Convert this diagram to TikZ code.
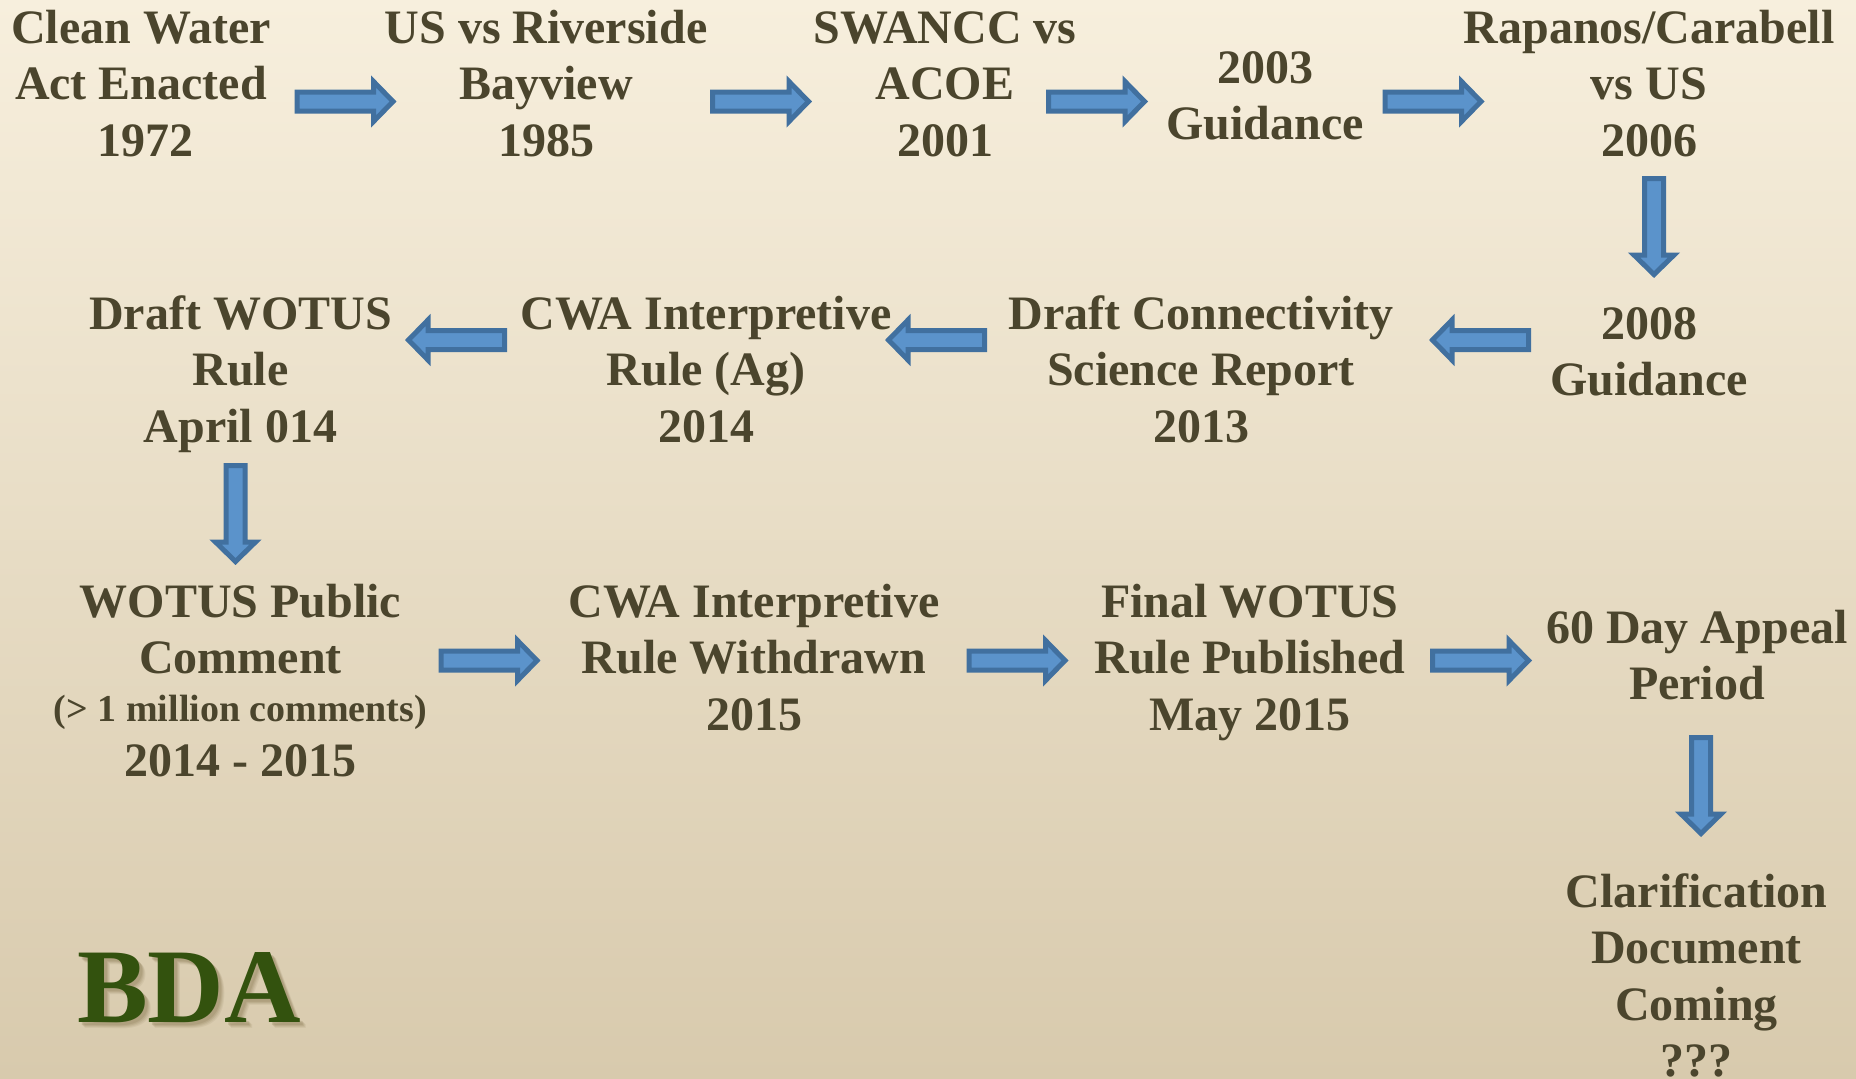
\documentclass[tikz,border=0pt]{standalone}
\usepackage{fontspec}
\setmainfont{Liberation Serif}
\definecolor{bgtop}{HTML}{F7EFDD}
\definecolor{bgbot}{HTML}{D8CAAD}
\definecolor{txtc}{HTML}{4B452D}
\definecolor{arrfill}{HTML}{5B93CB}
\definecolor{arrline}{HTML}{41709F}
\definecolor{bdagreen}{HTML}{33520E}
\definecolor{bdashadow}{HTML}{8F7F58}
\newcommand\Ls{\vrule height 39.5pt depth 17pt width 0pt}
\begin{document}
\begin{tikzpicture}[x=1pt,y=-1pt,
  txt/.style={text=txtc, font=\fontsize{48}{56.5}\selectfont\bfseries, align=center, inner sep=0pt},
  barrow/.pic={\draw[fill=arrfill, draw=arrline, line width=5pt, line join=miter]
     (-48.5,-9.5) -- (28,-9.5) -- (28,-20) -- (47.5,0) -- (28,20) -- (28,9.5) -- (-48.5,9.5) -- cycle;}
]
\useasboundingbox (0,0) rectangle (1856,1079);
\clip (0,0) rectangle (1856,1079);
\shade[top color=bgtop, bottom color=bgbot] (0,0) rectangle (1856,1079);

% row 1
\node[txt] (n1) at (141,88.25) {\Ls Clean Water\\\Ls Act Enacted\\\Ls\hspace*{10pt}1972};
\node[txt] (n2) at (546,88.25) {\Ls US vs Riverside\\\Ls Bayview\\\Ls 1985};
\node[txt] (n3) at (945,88.25) {\Ls SWANCC vs\\\Ls ACOE\\\Ls 2001};
\node[txt] (n4) at (1265,100) {\Ls 2003\\\Ls Guidance};
\node[txt] (n5) at (1649,88.25) {\Ls Rapanos/Carabell\\\Ls vs US\\\Ls 2006};
% row 2
\node[txt] (n6) at (1649,356) {\Ls 2008\\\Ls Guidance};
\node[txt] (n7) at (1201,374.25) {\Ls Draft Connectivity\\\Ls Science Report\\\Ls 2013};
\node[txt] (n8) at (706,374.25) {\Ls CWA Interpretive\\\Ls Rule (Ag)\\\Ls 2014};
\node[txt] (n9) at (240.5,374.25) {\Ls Draft WOTUS\\\Ls Rule\\\Ls April 014};
% row 3
\node[txt, anchor=north] (n10) at (240.5,577.5) {\Ls WOTUS Public\\\Ls Comment\\[-8.5pt]{\fontsize{38}{56.5}\selectfont (> 1 million comments)}\\[-1.5pt]\Ls 2014 - 2015};
\node[txt] (n11) at (754,662.25) {\Ls CWA Interpretive\\\Ls Rule Withdrawn\\\Ls 2015};
\node[txt] (n12) at (1250,662.25) {\Ls Final WOTUS\\\Ls Rule Published\\\Ls May 2015};
\node[txt] (n13) at (1697,660) {\Ls 60 Day Appeal\\\Ls Period};
% row 4
\node[txt] (n14) at (1696.5,980.5) {\Ls Clarification\\\Ls Document\\\Ls Coming\\\Ls ???};

% BDA logo with soft shadow
\foreach \d/\o in {6/0.12,5/0.15,4/0.2,3/0.25}{
  \node[anchor=base, inner sep=0pt, text=bdashadow, opacity=\o, font=\fontsize{106}{110}\selectfont\bfseries] at (189+\d,1022+\d) {BDA};
}
\node[anchor=base, inner sep=0pt, text=bdagreen, font=\fontsize{106}{110}\selectfont\bfseries] (bda) at (189,1022) {BDA};

% block arrows
\pic at (345.5,101.5) {barrow};
\pic at (761,101.5) {barrow};
\pic at (1097,101.5) {barrow};
\pic at (1433.5,101.5) {barrow};
\pic[rotate=-90] at (1654,227) {barrow};
\pic[rotate=180] at (1480,340) {barrow};
\pic[rotate=180] at (936,340) {barrow};
\pic[rotate=180] at (456,340) {barrow};
\pic[rotate=-90] at (235.5,514) {barrow};
\pic at (489.5,660.5) {barrow};
\pic at (1017.5,660.5) {barrow};
\pic at (1481,660.5) {barrow};
\pic[rotate=-90] at (1701,786) {barrow};
\end{tikzpicture}
\end{document}
